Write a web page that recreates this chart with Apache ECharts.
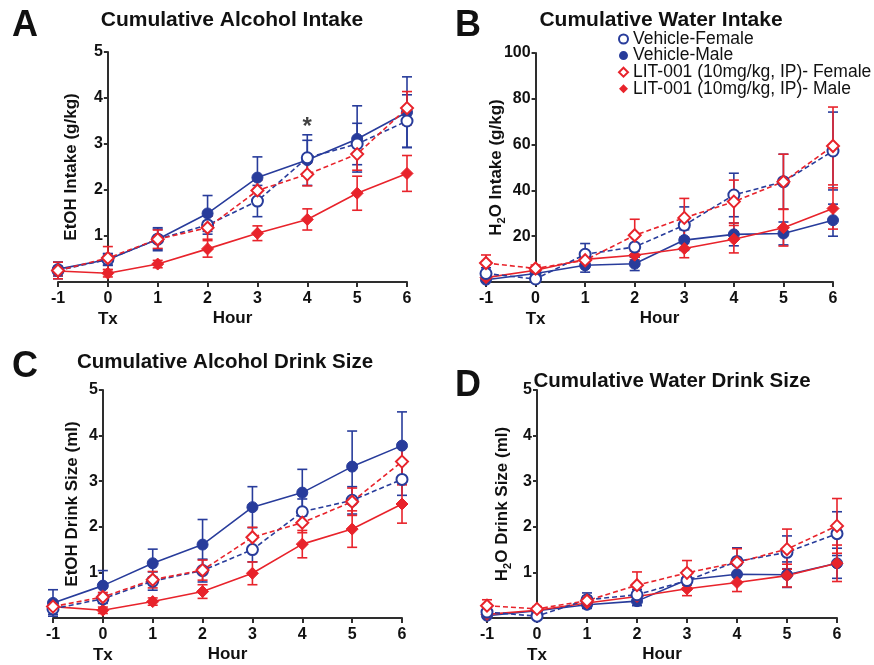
<!DOCTYPE html>
<html>
<head>
<meta charset="utf-8">
<script src="https://cdn.jsdelivr.net/npm/echarts@6/dist/echarts.min.js"></script>
<style>
  html, body { margin: 0; padding: 0; background: #fff; }
  #chart { width: 874px; height: 665px; }
</style>
</head>
<body>
<div id="chart"></div>
<script>
// Time points (hours relative to treatment, Tx = 0)
const hours = [-1, 0, 1, 2, 3, 4, 5, 6];

// Group names
const groupNames = ['Vehicle-Female', 'Vehicle-Male', 'LIT-001 (10mg/kg, IP)- Female', 'LIT-001 (10mg/kg, IP)- Male'];

// Panel A: cumulative alcohol intake (g/kg), mean and SEM
const alcIntakeVehF    = [0.25, 0.49, 0.93, 1.24, 1.76, 2.70, 3.00, 3.50];
const alcIntakeVehFErr = [0.18, 0.13, 0.25, 0.20, 0.34, 0.38, 0.45, 0.57];
const alcIntakeVehM    = [0.28, 0.49, 0.93, 1.49, 2.27, 2.65, 3.11, 3.69];
const alcIntakeVehMErr = [0.15, 0.12, 0.22, 0.39, 0.45, 0.55, 0.72, 0.77];
const alcIntakeLitF    = [0.25, 0.52, 0.93, 1.18, 1.99, 2.34, 2.78, 3.78];
const alcIntakeLitFErr = [0.18, 0.25, 0.20, 0.25, 0.22, 0.25, 0.35, 0.36];
const alcIntakeLitM    = [0.24, 0.19, 0.39, 0.72, 1.06, 1.36, 1.93, 2.36];
const alcIntakeLitMErr = [0.10, 0.08, 0.08, 0.18, 0.16, 0.23, 0.37, 0.39];

// Panel B: cumulative water intake (g/kg)
const watIntakeVehF    = [3.7, 1.3, 12.1, 15.3, 24.8, 38.0, 43.8, 57.2];
const watIntakeVehFErr = [2.5, 1.5, 4.7, 4.5, 8.0, 9.5, 12.0, 17.0];
const watIntakeVehM    = [1.0, 3.7, 7.3, 8.0, 18.3, 20.8, 21.2, 27.0];
const watIntakeVehMErr = [1.2, 1.5, 3.0, 3.0, 4.5, 5.0, 5.0, 7.0];
const watIntakeLitF    = [8.3, 5.9, 9.5, 20.4, 28.0, 35.1, 43.8, 59.4];
const watIntakeLitFErr = [3.5, 1.5, 3.0, 7.0, 8.5, 9.4, 12.0, 17.0];
const watIntakeLitM    = [1.9, 5.1, 9.9, 11.7, 14.6, 18.7, 23.7, 32.1];
const watIntakeLitMErr = [1.0, 1.5, 2.0, 2.0, 4.0, 6.0, 8.0, 9.0];

// Panel C: cumulative alcohol drink size (ml)
const alcSizeVehF    = [0.20, 0.42, 0.81, 1.04, 1.50, 2.33, 2.58, 3.04];
const alcSizeVehFErr = [0.12, 0.10, 0.20, 0.25, 0.27, 0.28, 0.30, 0.35];
const alcSizeVehM    = [0.33, 0.71, 1.20, 1.61, 2.43, 2.75, 3.32, 3.78];
const alcSizeVehMErr = [0.29, 0.33, 0.31, 0.55, 0.45, 0.51, 0.78, 0.74];
const alcSizeLitF    = [0.25, 0.46, 0.84, 1.05, 1.77, 2.09, 2.55, 3.43];
const alcSizeLitFErr = [0.10, 0.10, 0.18, 0.22, 0.22, 0.22, 0.30, 0.35];
const alcSizeLitM    = [0.25, 0.17, 0.36, 0.58, 0.98, 1.62, 1.95, 2.50];
const alcSizeLitMErr = [0.08, 0.07, 0.08, 0.15, 0.25, 0.30, 0.40, 0.42];

// Panel D: cumulative water drink size (ml)
const watSizeVehF    = [0.13, 0.04, 0.40, 0.51, 0.82, 1.24, 1.44, 1.85];
const watSizeVehFErr = [0.08, 0.05, 0.15, 0.12, 0.20, 0.30, 0.36, 0.48];
const watSizeVehM    = [0.05, 0.16, 0.29, 0.37, 0.84, 0.96, 0.95, 1.20];
const watSizeVehMErr = [0.05, 0.05, 0.08, 0.10, 0.20, 0.20, 0.28, 0.33];
const watSizeLitF    = [0.27, 0.20, 0.38, 0.72, 0.99, 1.22, 1.51, 2.02];
const watSizeLitFErr = [0.13, 0.05, 0.10, 0.29, 0.27, 0.30, 0.44, 0.60];
const watSizeLitM    = [0.08, 0.17, 0.33, 0.47, 0.64, 0.78, 0.93, 1.20];
const watSizeLitMErr = [0.05, 0.05, 0.07, 0.10, 0.15, 0.20, 0.25, 0.40];

// Significance marker (panel A)
const sigHour = 4;
const sigLevel = 3.36;

const FONT = '"Liberation Sans", Arial, Helvetica, sans-serif';
const BLUE = '#283c9b';
const RED = '#e8232b';
const AXIS = '#2e2e2e';
const TEXT = '#111';
const X_MIN = -1, X_MAX = 6;

// Visual style of each group
const groupStyles = [
  { color: BLUE, filled: false, symbol: 'circle', dashed: true, size: 11 },
  { color: BLUE, filled: true,  symbol: 'circle', dashed: false, size: 11 },
  { color: RED,  filled: false, symbol: 'diamond', dashed: true, size: 12 },
  { color: RED,  filled: true,  symbol: 'diamond', dashed: false, size: 12 }
];

const panels = [
  { means: [alcIntakeVehF, alcIntakeVehM, alcIntakeLitF, alcIntakeLitM],
    errs:  [alcIntakeVehFErr, alcIntakeVehMErr, alcIntakeLitFErr, alcIntakeLitMErr],
    grid: { left: 58, top: 52, width: 349, height: 230 },
    yMax: 5, yInterval: 1, yName: '{a|EtOH Intake (g/kg)}', nameGap: 26 },
  { means: [watIntakeVehF, watIntakeVehM, watIntakeLitF, watIntakeLitM],
    errs:  [watIntakeVehFErr, watIntakeVehMErr, watIntakeLitFErr, watIntakeLitMErr],
    grid: { left: 486, top: 53, width: 347, height: 229 },
    yMax: 100, yInterval: 20, yName: '{a|H}{s|2}{a|O Intake (g/kg)}', nameGap: 28 },
  { means: [alcSizeVehF, alcSizeVehM, alcSizeLitF, alcSizeLitM],
    errs:  [alcSizeVehFErr, alcSizeVehMErr, alcSizeLitFErr, alcSizeLitMErr],
    grid: { left: 53, top: 390, width: 349, height: 228 },
    yMax: 5, yInterval: 1, yName: '{a|EtOH Drink Size (ml)}', nameGap: 20 },
  { means: [watSizeVehF, watSizeVehM, watSizeLitF, watSizeLitM],
    errs:  [watSizeVehFErr, watSizeVehMErr, watSizeLitFErr, watSizeLitMErr],
    grid: { left: 487, top: 390, width: 350, height: 229 },
    yMax: 5, yInterval: 1, yName: '{a|H}{s|2}{a|O Drink Size (ml)}', nameGap: 24 }
];

const nameRich = {
  a: { fontFamily: FONT, fontSize: 17, fontWeight: 'bold', color: TEXT, lineHeight: 22 },
  s: { fontFamily: FONT, fontSize: 11, fontWeight: 'bold', color: TEXT, lineHeight: 12, verticalAlign: 'bottom' }
};

const grids = [], xAxes = [], yAxes = [], series = [];

panels.forEach((p, gi) => {
  grids.push(Object.assign({ containLabel: false }, p.grid));
  // y axis crosses the time axis at Tx (hour 0)
  const zeroOffset = p.grid.width * (0 - X_MIN) / (X_MAX - X_MIN);
  xAxes.push({
    type: 'value', gridIndex: gi, min: X_MIN, max: X_MAX, interval: 1,
    name: 'Hour', nameLocation: 'middle', nameGap: 28, nameMoveOverlap: false,
    nameTextStyle: { fontFamily: FONT, fontSize: 17, fontWeight: 'bold', color: TEXT },
    axisLine: { onZero: false, lineStyle: { color: AXIS, width: 2 } },
    axisTick: { length: 5, lineStyle: { color: AXIS, width: 2 } },
    splitLine: { show: false },
    axisLabel: {
      margin: 7, fontFamily: FONT, fontSize: 16, fontWeight: 'bold', color: TEXT, lineHeight: 20,
      formatter: v => v === 0 ? '0\n{tx|Tx}' : String(v),
      rich: { tx: { fontFamily: FONT, fontSize: 17, fontWeight: 'bold', color: TEXT, lineHeight: 20 } }
    }
  });
  yAxes.push({
    type: 'value', gridIndex: gi, min: 0, max: p.yMax, interval: p.yInterval,
    offset: -zeroOffset,
    name: p.yName, nameLocation: 'middle', nameGap: p.nameGap, nameRotate: 90, nameMoveOverlap: false,
    nameTextStyle: { rich: nameRich },
    axisLine: { onZero: false, lineStyle: { color: AXIS, width: 2 } },
    axisTick: { length: 4, lineStyle: { color: AXIS, width: 2 } },
    splitLine: { show: false },
    axisLabel: {
      margin: 5, fontFamily: FONT, fontSize: 16, fontWeight: 'bold', color: TEXT,
      formatter: v => v === 0 ? '' : String(v)
    }
  });

  p.means.forEach((vals, k) => {
    const st = groupStyles[k];
    const errs = p.errs[k];
    // error bars (mean ± SEM)
    series.push({
      type: 'custom', name: groupNames[k], xAxisIndex: gi, yAxisIndex: gi, z: 2,
      silent: true,
      data: hours.map((h, i) => [h, vals[i], errs[i]]),
      encode: { x: 0, y: 1 },
      renderItem: (params, api) => {
        const x = api.value(0), m = api.value(1), e = api.value(2);
        const top = api.coord([x, m + e]);
        const bot = api.coord([x, Math.max(0, m - e)]);
        const half = 5;
        const style = { stroke: st.color, lineWidth: 1.6 };
        return {
          type: 'group',
          children: [
            { type: 'line', shape: { x1: top[0], y1: top[1], x2: bot[0], y2: bot[1] }, style },
            { type: 'line', shape: { x1: top[0] - half, y1: top[1], x2: top[0] + half, y2: top[1] }, style },
            { type: 'line', shape: { x1: bot[0] - half, y1: bot[1], x2: bot[0] + half, y2: bot[1] }, style }
          ]
        };
      }
    });
    // group means
    series.push({
      type: 'line', name: groupNames[k], xAxisIndex: gi, yAxisIndex: gi, z: 3 + (st.filled ? 0 : 1),
      data: hours.map((h, i) => [h, vals[i]]),
      symbol: st.symbol, symbolSize: st.size, showSymbol: true,
      lineStyle: { color: st.color, width: 1.6, type: st.dashed ? [5, 3] : 'solid' },
      itemStyle: st.filled
        ? { color: st.color, borderColor: st.color, borderWidth: 1 }
        : { color: '#fff', borderColor: st.color, borderWidth: 2 },
      emphasis: { disabled: true },
      animation: false
    });
  });
});

// significance asterisk in panel A
series.push({
  type: 'scatter', xAxisIndex: 0, yAxisIndex: 0, z: 6, silent: true,
  data: [[sigHour, sigLevel]],
  symbol: 'circle', symbolSize: 1, itemStyle: { color: 'rgba(0,0,0,0)' },
  label: { show: true, position: 'inside', formatter: '*', fontFamily: FONT, fontSize: 24, fontWeight: 'bold', color: TEXT }
});

const titleStyle = { fontFamily: FONT, fontSize: 21, fontWeight: 'bold', color: TEXT };
const subTitleStyle = { fontFamily: FONT, fontSize: 20.5, fontWeight: 'bold', color: TEXT };
const letterStyle = { fontFamily: FONT, fontSize: 36, fontWeight: 'bold', color: TEXT };

const option = {
  backgroundColor: '#fff',
  animation: false,
  title: [
    { text: 'A', left: 12, top: 8, padding: 0, textStyle: letterStyle },
    { text: 'B', left: 455, top: 8, padding: 0, textStyle: letterStyle },
    { text: 'C', left: 12, top: 349, padding: 0, textStyle: letterStyle },
    { text: 'D', left: 455, top: 368, padding: 0, textStyle: letterStyle },
    { text: 'Cumulative Alcohol Intake', left: 232, top: 10, padding: 0, textAlign: 'center', textStyle: titleStyle },
    { text: 'Cumulative Water Intake', left: 661, top: 10, padding: 0, textAlign: 'center', textStyle: titleStyle },
    { text: 'Cumulative Alcohol Drink Size', left: 225, top: 352, padding: 0, textAlign: 'center', textStyle: subTitleStyle },
    { text: 'Cumulative Water Drink Size', left: 672, top: 371, padding: 0, textAlign: 'center', textStyle: subTitleStyle }
  ],
  legend: {
    orient: 'vertical', left: 618, top: 30, padding: 0,
    itemWidth: 9, itemHeight: 9, itemGap: -1.4, selectedMode: false,
    textStyle: { fontFamily: FONT, fontSize: 17.5, color: TEXT, lineHeight: 16.5 },
    data: groupNames.map((n, k) => ({
      name: n,
      icon: groupStyles[k].symbol,
      itemStyle: groupStyles[k].filled
        ? { color: groupStyles[k].color, borderWidth: 0 }
        : { color: '#fff', borderColor: groupStyles[k].color, borderWidth: 2 }
    }))
  },
  grid: grids,
  xAxis: xAxes,
  yAxis: yAxes,
  series: series
};

const chart = echarts.init(document.getElementById('chart'), null, { renderer: 'canvas' });
chart.setOption(option);
</script>
</body>
</html>
